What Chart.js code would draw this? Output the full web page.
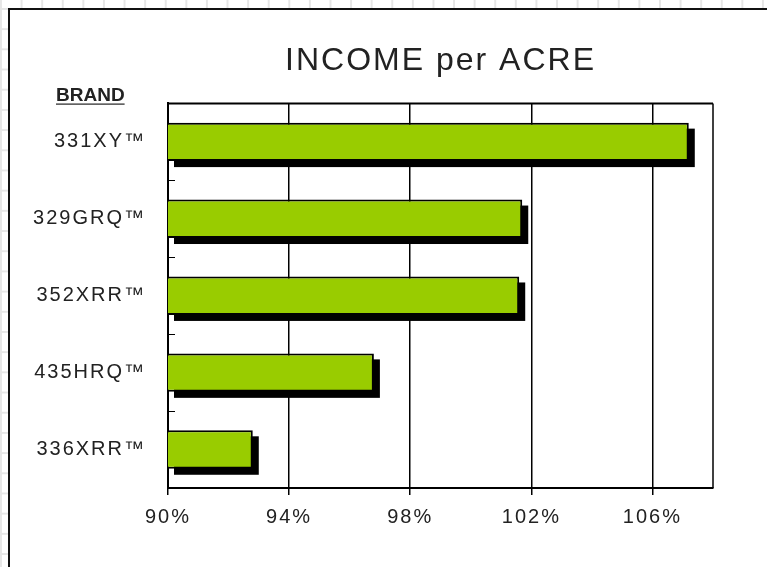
<!DOCTYPE html>
<html>
<head>
<meta charset="utf-8">
<script src="https://cdn.jsdelivr.net/npm/chart.js@4.4.1/dist/chart.umd.min.js"></script>
<style>
  html, body { margin: 0; padding: 0; }
  body {
    width: 767px; height: 567px; overflow: hidden; position: relative;
    background-color: #fff;
    background-image:
      linear-gradient(to right, #e6e6e6 2px, transparent 2px),
      linear-gradient(to bottom, #e6e6e6 2px, transparent 2px);
    background-size: 20.6px 20.2px;
    background-position: 0px 8px;
  }
  #panel {
    position: absolute; left: 8px; top: 8px; right: 0; bottom: 0;
    background: #fff; border-left: 2px solid #111; border-top: 2px solid #111;
  }
  canvas { position: absolute; left: 0; top: 0; }
</style>
</head>
<body>
<div id="panel"></div>
<canvas id="myChart" width="767" height="567"></canvas>
<script>
// datos del grafico
const brands = ['331XY™', '329GRQ™', '352XRR™', '435HRQ™', '336XRR™'];
const incomePct = [107.2, 101.7, 101.6, 96.8, 92.8];
const xTicks = [90, 94, 98, 102, 106];
const xMin = 90;
const xMax = 108;

const FONT = 'Liberation Sans, Arial, sans-serif';

// espaciado de letras (el original tiene texto algo "abierto")
const spacingPlugin = {
  id: 'spacing',
  beforeLayout(chart) { chart.ctx.letterSpacing = '2px'; },
  beforeDraw(chart) { chart.ctx.letterSpacing = '2px'; }
};

// sombra negra de las barras, desplazada abajo a la derecha
const shadowPlugin = {
  id: 'barShadow',
  beforeDatasetsDraw(chart) {
    const c = chart.ctx;
    const meta = chart.getDatasetMeta(0);
    c.save();
    c.fillStyle = '#000';
    meta.data.forEach(bar => {
      const { x, y, base, height } = bar.getProps(['x', 'y', 'base', 'height'], true);
      const left = Math.min(base, x);
      const right = Math.max(base, x);
      c.fillRect(left + 6, y - height / 2 + 6, right - left, height);
    });
    c.restore();
  }
};

// marco superior/derecho, marcas internas del eje Y y la palabra BRAND
const framePlugin = {
  id: 'frame',
  afterDraw(chart) {
    const c = chart.ctx;
    const a = chart.chartArea;
    const y = chart.scales.y;
    c.save();
    c.strokeStyle = '#000';
    c.lineWidth = 2;
    c.beginPath();
    c.moveTo(a.left, a.top);
    c.lineTo(a.right, a.top);
    c.stroke();
    c.lineWidth = 1.5;
    c.beginPath();
    c.moveTo(a.right, a.top);
    c.lineTo(a.right, a.bottom);
    c.stroke();

    c.lineWidth = 1;
    for (let i = 1; i < brands.length; i++) {
      const py = Math.round((y.getPixelForValue(i - 1) + y.getPixelForValue(i)) / 2) + 0.5;
      c.beginPath();
      c.moveTo(a.left, py);
      c.lineTo(a.left + 7, py);
      c.stroke();
    }

    c.letterSpacing = '0px';
    c.font = 'bold 19px ' + FONT;
    c.fillStyle = '#222';
    c.textAlign = 'left';
    c.textBaseline = 'alphabetic';
    c.fillText('BRAND', 56, 101);
    const w = c.measureText('BRAND').width;
    c.fillRect(56, 103.5, w, 1.2);
    c.restore();
  }
};

const ctx = document.getElementById('myChart').getContext('2d');

new Chart(ctx, {
  type: 'bar',
  data: {
    labels: brands,
    datasets: [{
      data: incomePct.map(v => [xMin, v]),
      backgroundColor: '#99CC00',
      borderColor: '#000',
      borderWidth: 2,
      borderSkipped: 'start',
      barPercentage: 0.5,
      categoryPercentage: 1.0
    }]
  },
  options: {
    indexAxis: 'y',
    responsive: false,
    animation: false,
    layout: { padding: { left: 0, right: 54, top: 0, bottom: 0 } },
    plugins: {
      legend: { display: false },
      tooltip: { enabled: false },
      title: {
        display: true,
        text: 'INCOME per ACRE',
        fullSize: false,
        color: '#222',
        font: { family: FONT, size: 32, weight: 'normal' },
        padding: { top: 42, bottom: 23 }
      }
    },
    scales: {
      x: {
        type: 'linear',
        min: xMin,
        max: xMax,
        afterBuildTicks: s => { s.ticks = xTicks.map(v => ({ value: v })); },
        afterFit: s => { s.height = 79; },
        ticks: {
          color: '#222',
          padding: 10,
          font: { family: FONT, size: 20 },
          callback: v => v + '%'
        },
        grid: { color: '#000', lineWidth: 1.5, tickLength: 7, tickColor: '#000' },
        border: { display: true, color: '#000', width: 2 }
      },
      y: {
        afterFit: s => { s.width = 168; },
        ticks: {
          color: '#222',
          padding: 22,
          font: { family: FONT, size: 20 }
        },
        grid: { display: true, color: 'transparent', drawTicks: false },
        border: { display: true, color: '#000', width: 2 }
      }
    }
  },
  plugins: [spacingPlugin, shadowPlugin, framePlugin]
});
</script>
</body>
</html>
